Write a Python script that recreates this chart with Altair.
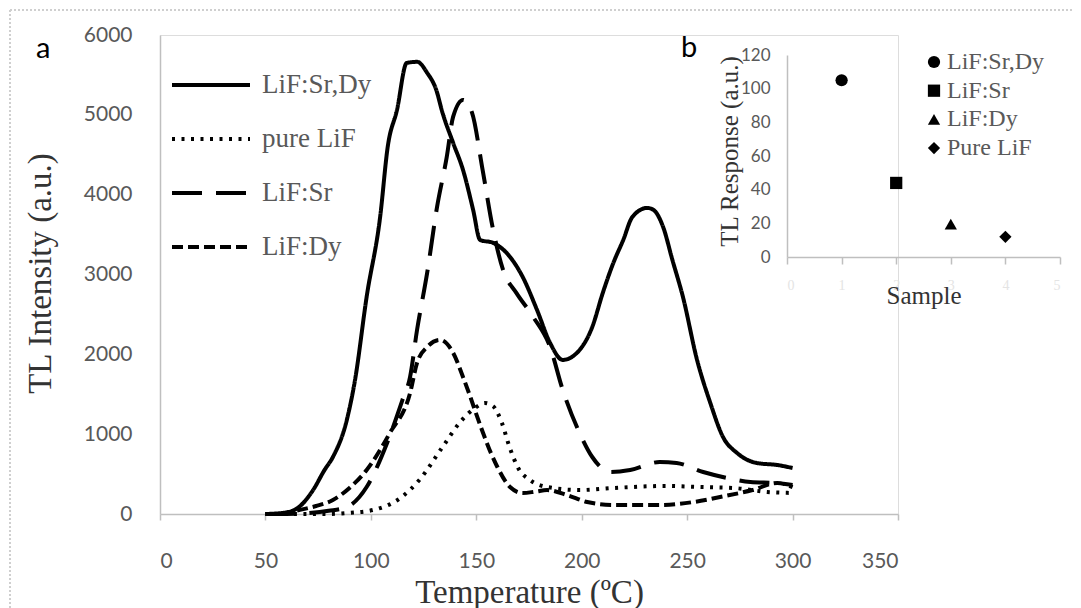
import altair as alt
import pandas as pd

# ---------------- main panel (a): glow curves ----------------
series_order = ["LiF:Sr,Dy", "pure LiF", "LiF:Sr", "LiF:Dy"]

srdy_T = [50, 60, 66, 72.6, 78, 82, 88.6, 92.5, 98, 104.4, 108, 112.4, 117, 122, 126.7, 131, 134, 139,
          143.7, 148.5, 151.8, 158, 166, 172, 178.8, 185, 191, 199, 205, 210, 215, 219.7, 224, 231,
          234, 238.6, 243, 248, 254.7, 261, 267, 273.7, 283, 292.7, 300]
srdy_I = [0, 20, 90, 300, 550, 714, 1178, 1680, 2720, 3720, 4600, 5062, 5650, 5664, 5526, 5313, 5025, 4650,
          4310, 3810, 3433, 3396, 3220, 2970, 2556, 2143, 1930, 2055, 2343, 2770, 3145, 3433, 3720, 3834,
          3810, 3596, 3183, 2720, 1930, 1390, 965, 764, 639, 614, 576]

pure_T = [50, 80, 90, 101, 114, 123, 134, 142, 150, 154, 158, 162, 166, 170, 175.5, 183.6, 199, 215, 240,
          256, 272, 288, 300]
pure_I = [0, 0, 15, 50, 200, 426, 840, 1140, 1340, 1390, 1350, 1150, 820, 570, 426, 338, 300, 326, 351,
          338, 326, 276, 263]

sr_T = [50, 60, 70, 80, 88.7, 98, 107.7, 115, 118.6, 121.9, 126.7, 131.4, 136, 139, 143.7, 148, 153, 158,
        162.7, 169, 177, 185, 191, 199, 205, 213.5, 223, 237, 245, 257.6, 269, 280, 292.7, 300]
sr_I = [0, 0, 10, 40, 88, 338, 890, 1430, 1717, 2305, 3020, 3847, 4473, 4974, 5187, 5025, 4310, 3558,
        3057, 2770, 2468, 2092, 1554, 1015, 714, 526, 551, 651, 639, 526, 451, 401, 388, 363]

dy_T = [50, 55, 66, 74, 82, 90, 98, 109, 118.6, 121.9, 126.7, 132.8, 139, 143.7, 147, 150, 153, 157, 160,
        166, 172, 178, 183.6, 193, 202.6, 215, 237, 253, 265.6, 281, 292.7, 300]
dy_I = [0, 0, 50, 100, 175, 330, 551, 1015, 1516, 1892, 2092, 2180, 2020, 1717, 1480, 1250, 1030, 760, 589,
        338, 263, 280, 300, 238, 150, 113, 113, 150, 213, 300, 388, 338]

rows = []
for name, T, I in [("LiF:Sr,Dy", srdy_T, srdy_I), ("pure LiF", pure_T, pure_I),
                   ("LiF:Sr", sr_T, sr_I), ("LiF:Dy", dy_T, dy_I)]:
    for t, v in zip(T, I):
        rows.append({"Temperature": t, "Intensity": v, "Sample": name})
curves = pd.DataFrame(rows)

dash_range = [[1, 0], [3, 6.5], [30, 14], [11, 5]]

# ---------------- inset panel (b): TL response ----------------
inset_names = ["LiF:Sr,Dy", "LiF:Sr", "LiF:Dy", "Pure LiF"]
inset_x = [1, 2, 3, 4]
inset_y = [105, 44, 19.5, 12]
inset = pd.DataFrame({"name": inset_names, "sample": inset_x, "response": inset_y})

SERIF = "Liberation Serif"
SANS = "Lato"
GREY = "#595959"
TITLE = "#333333"

lines = alt.Chart(curves).mark_line(
    color="black", strokeWidth=4, interpolate="monotone", strokeCap="butt"
).encode(
    x=alt.X("Temperature:Q",
            scale=alt.Scale(domain=[0, 350], nice=False, zero=True),
            axis=alt.Axis(title="Temperature (ºC)", values=[0, 50, 100, 150, 200, 250, 300, 350],
                          format="d",
                          grid=False, domainColor="#bfbfbf", domainWidth=1.5,
                          tickColor="#bfbfbf", tickSize=6, tickWidth=1.5,
                          labelFont=SANS, labelFontSize=21, labelColor=GREY,
                          labelBaseline="alphabetic", labelPadding=47,
                          titleFont=SERIF, titleFontSize=33, titleFontWeight="normal",
                          titleColor=TITLE, titleBaseline="alphabetic", titleY=88)),
    y=alt.Y("Intensity:Q",
            scale=alt.Scale(domain=[0, 6000], nice=False),
            axis=alt.Axis(title="TL Intensity (a.u.)", values=[0, 1000, 2000, 3000, 4000, 5000, 6000],
                          format="d",
                          grid=False, domainColor="#bfbfbf", domainWidth=1.5, ticks=False,
                          labelFont=SANS, labelFontSize=21, labelColor=GREY, labelPadding=28,
                          titleFont=SERIF, titleFontSize=33, titleFontWeight="normal",
                          titleColor=TITLE, titleBaseline="alphabetic", titleAngle=270,
                          titleX=-110, titleY=238)),
    strokeDash=alt.StrokeDash("Sample:N",
                              scale=alt.Scale(domain=series_order, range=dash_range),
                              legend=alt.Legend(orient="none", legendX=10, legendY=9, title=None,
                                                symbolType="stroke", symbolSize=6084,
                                                symbolStrokeWidth=4, symbolStrokeColor="black",
                                                labelFont=SERIF, labelFontSize=27, labelColor=GREY,
                                                labelOffset=10, rowPadding=-29, padding=0)),
    detail="Sample:N",
)

points = alt.Chart(inset).mark_point(filled=True, color="black", size=150, opacity=1).encode(
    x=alt.X("sample:Q",
            scale=alt.Scale(domain=[0, 5], range=[627, 900], nice=False),
            axis=alt.Axis(title="Sample", orient="bottom", offset=-257, values=[0, 1, 2, 3, 4, 5],
                          grid=False, domainColor="#bfbfbf", domainWidth=1.5,
                          tickColor="#bfbfbf", tickSize=7, tickWidth=1.5,
                          labelFont=SERIF, labelFontSize=14, labelColor="#e4e4e4",
                          labelBaseline="alphabetic", labelPadding=25,
                          titleFont=SERIF, titleFontSize=25, titleFontWeight="normal",
                          titleColor=TITLE, titleBaseline="alphabetic", titleY=46)),
    y=alt.Y("response:Q",
            scale=alt.Scale(domain=[0, 120], range=[222, 20], nice=False),
            axis=alt.Axis(title="TL Response (a.u.)", orient="left", offset=-627,
                          values=[0, 20, 40, 60, 80, 100, 120],
                          grid=False, domainColor="#bfbfbf", domainWidth=1.5, ticks=False,
                          labelFont=SANS, labelFontSize=17, labelColor=GREY, labelPadding=17,
                          titleFont=SERIF, titleFontSize=25, titleFontWeight="normal",
                          titleColor=TITLE, titleBaseline="alphabetic", titleAngle=270,
                          titleX=-50, titleY=116)),
    shape=alt.Shape("name:N",
                    scale=alt.Scale(domain=inset_names,
                                    range=["circle", "square", "triangle-up", "diamond"]),
                    legend=alt.Legend(orient="none", legendX=762, legendY=15, title=None,
                                      symbolSize=150, symbolFillColor="black",
                                      symbolStrokeColor="black", symbolStrokeWidth=0,
                                      labelFont=SERIF, labelFontSize=24, labelColor=GREY,
                                      labelOffset=1, rowPadding=4.7, padding=0)),
)

panel_a = alt.Chart(pd.DataFrame({"t": ["a"]})).mark_text(
    font=SANS, fontSize=29, color="black", align="left", baseline="alphabetic"
).encode(text="t:N", x=alt.value(-124), y=alt.value(23))

panel_b = alt.Chart(pd.DataFrame({"t": ["b"]})).mark_text(
    font=SANS, fontSize=29, color="black", align="left", baseline="alphabetic"
).encode(text="t:N", x=alt.value(521), y=alt.value(22))

border_left = alt.Chart(pd.DataFrame({"k": [0]})).mark_rule(
    color="#cfcfcf", strokeDash=[2, 2], strokeWidth=2
).encode(x=alt.value(-150), y=alt.value(-25), y2=alt.value(600))
border_top = alt.Chart(pd.DataFrame({"k": [0]})).mark_rule(
    color="#cfcfcf", strokeDash=[2, 2], strokeWidth=2
).encode(x=alt.value(-150), x2=alt.value(1000), y=alt.value(-25))

chart = alt.layer(lines, points, panel_a, panel_b, border_left, border_top).resolve_scale(
    x="independent", y="independent"
).resolve_axis(
    x="independent", y="independent"
).properties(
    width=738, height=479,
    autosize=alt.AutoSizeParams(type="none"),
    padding={"left": 152, "top": 27, "right": 175, "bottom": 94},
).configure_view(stroke=None).configure(background="white")

chart.save("out.html", embed_options={"renderer": "svg", "actions": False})
